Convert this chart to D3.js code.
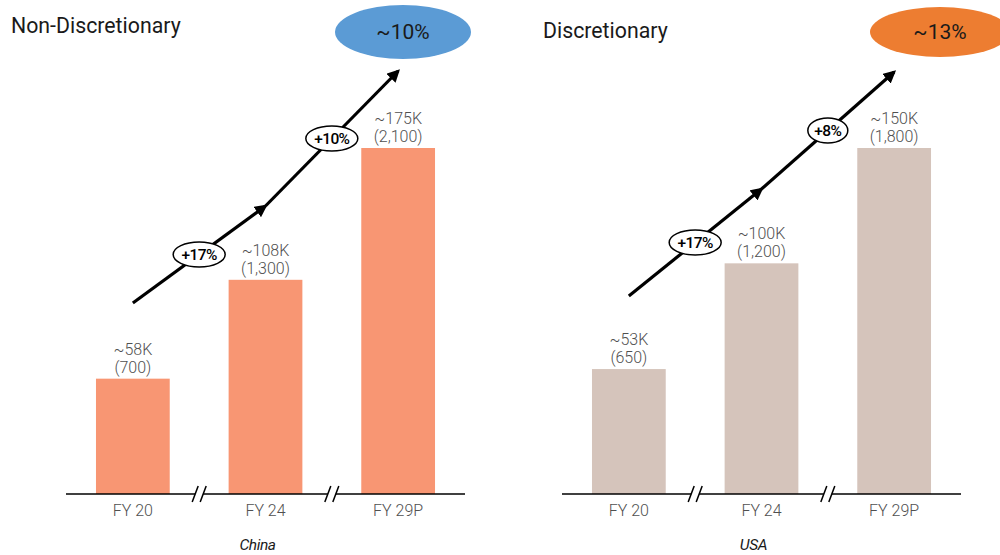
<!DOCTYPE html>
<html>
<head>
<meta charset="utf-8">
<script src="https://cdn.jsdelivr.net/npm/d3@7"></script>
<style>
  html, body { margin: 0; padding: 0; background: #fff; }
  svg { display: block; font-family: Roboto, "Noto Sans", sans-serif; }
</style>
</head>
<body>
<svg id="chart" width="1000" height="555"></svg>
<script>
// Fiscal years shown on both panels
const years = ["FY 20", "FY 24", "FY 29P"];

// Non-Discretionary (China)
const chinaCounts = [700, 1300, 2100];
const chinaValues = ["~58K", "~108K", "~175K"];
const chinaGrowth = ["+17%", "+10%"];
const chinaCagr = "~10%";

// Discretionary (USA)
const usaCounts = [650, 1200, 1800];
const usaValues = ["~53K", "~100K", "~150K"];
const usaGrowth = ["+17%", "+8%"];
const usaCagr = "~13%";

const panels = [
  { title: "Non-Discretionary", region: "China", counts: chinaCounts, values: chinaValues,
    growth: chinaGrowth, cagr: chinaCagr, color: "#f89673", badge: "#5b9bd5",
    x0: 66, titleX: 11, titleY: 33, badgeX: 403, badgeRx: 68, badgeRy: 27,
    arrowY: [303, 206, 71] },
  { title: "Discretionary", region: "USA", counts: usaCounts, values: usaValues,
    growth: usaGrowth, cagr: usaCagr, color: "#d5c4bb", badge: "#ed7d31",
    x0: 562, titleX: 543, titleY: 38, badgeX: 940, badgeRx: 70, badgeRy: 25,
    arrowY: [296, 189, 72] }
];

const svg = d3.select("#chart");
const baseY = 494, topY = 148, axisW = 399;

svg.append("defs").append("marker")
  .attr("id", "head")
  .attr("viewBox", "0 0 10 10")
  .attr("refX", 8).attr("refY", 5)
  .attr("markerWidth", 4).attr("markerHeight", 4)
  .attr("markerUnits", "strokeWidth")
  .attr("orient", "auto")
  .append("path").attr("d", "M0,0 L10,5 L0,10 Z").attr("fill", "#000");

panels.forEach(p => {
  const g = svg.append("g");

  const x = d3.scaleBand().domain(years)
    .range([p.x0, p.x0 + axisW]).paddingInner(0.444).paddingOuter(0.226);
  const y = d3.scaleLinear().domain([0, d3.max(p.counts)]).range([baseY, topY]);

  // panel title
  g.append("text").attr("x", p.titleX).attr("y", p.titleY)
    .attr("font-size", 21.3).attr("fill", "#1a1a1a").text(p.title);

  // CAGR badge
  g.append("ellipse").attr("cx", p.badgeX).attr("cy", 32)
    .attr("rx", p.badgeRx).attr("ry", p.badgeRy).attr("fill", p.badge);
  g.append("text").attr("x", p.badgeX).attr("y", 39)
    .attr("text-anchor", "middle").attr("font-size", 21).attr("fill", "#1a1a1a").text(p.cagr);

  // bars
  g.selectAll("rect.bar").data(p.counts).join("rect")
    .attr("class", "bar")
    .attr("x", (d, i) => x(years[i]))
    .attr("width", x.bandwidth())
    .attr("y", d => y(d))
    .attr("height", d => baseY - y(d))
    .attr("fill", p.color);

  // value labels
  const lab = g.selectAll("text.val").data(p.counts).join("text")
    .attr("class", "val")
    .attr("text-anchor", "middle").attr("font-size", 16).attr("font-weight", 300)
    .attr("fill", "#505050");
  lab.append("tspan")
    .attr("x", (d, i) => x(years[i]) + x.bandwidth() / 2)
    .attr("y", d => y(d) - 24)
    .text((d, i) => p.values[i]);
  lab.append("tspan")
    .attr("x", (d, i) => x(years[i]) + x.bandwidth() / 2)
    .attr("y", d => y(d) - 6)
    .text(d => "(" + d3.format(",")(d) + ")");

  // baseline with break marks between years
  const cx = years.map(yr => x(yr) + x.bandwidth() / 2);
  const breaks = [(cx[0] + cx[1]) / 2, (cx[1] + cx[2]) / 2];
  const segs = [[p.x0, breaks[0] - 4], [breaks[0] + 4, breaks[1] - 4], [breaks[1] + 4, p.x0 + axisW]];
  segs.forEach(s => g.append("line").attr("x1", s[0]).attr("x2", s[1])
    .attr("y1", baseY).attr("y2", baseY).attr("stroke", "#000").attr("stroke-width", 1.5));
  breaks.forEach(b => {
    [-4, 4].forEach(o => g.append("line")
      .attr("x1", b + o - 3).attr("y1", baseY + 8)
      .attr("x2", b + o + 3).attr("y2", baseY - 8)
      .attr("stroke", "#000").attr("stroke-width", 1.5));
  });

  // category labels
  g.selectAll("text.cat").data(years).join("text")
    .attr("class", "cat")
    .attr("x", d => x(d) + x.bandwidth() / 2).attr("y", 516)
    .attr("text-anchor", "middle").attr("font-size", 16).attr("font-weight", 300)
    .attr("fill", "#505050")
    .text(d => d);

  // region caption
  g.append("text").attr("x", p.x0 + axisW / 2 - 8).attr("y", 550)
    .attr("text-anchor", "middle").attr("font-size", 15.5).attr("font-style", "italic")
    .attr("letter-spacing", -0.4).attr("fill", "#1a1a1a").text(p.region);

  // growth arrows
  for (let i = 0; i < 2; i++) {
    g.append("line")
      .attr("x1", cx[i]).attr("y1", p.arrowY[i])
      .attr("x2", cx[i + 1]).attr("y2", p.arrowY[i + 1])
      .attr("stroke", "#000").attr("stroke-width", 3.2)
      .attr("marker-end", "url(#head)");
  }
  p.growth.forEach((t, i) => {
    const bx = breaks[i];
    const by = p.arrowY[i] + (p.arrowY[i + 1] - p.arrowY[i]) * (bx - cx[i]) / (cx[i + 1] - cx[i]);
    const rx = t.length > 3 ? 26 : 20;
    g.append("ellipse").attr("cx", bx).attr("cy", by).attr("rx", rx).attr("ry", 12.5)
      .attr("fill", "#fff").attr("stroke", "#000").attr("stroke-width", 1.5);
    g.append("text").attr("x", bx).attr("y", by + 5.5)
      .attr("text-anchor", "middle").attr("font-size", 15.5).attr("font-weight", 500)
      .attr("letter-spacing", -0.6).attr("fill", "#000").text(t);
  });
});
</script>
</body>
</html>
